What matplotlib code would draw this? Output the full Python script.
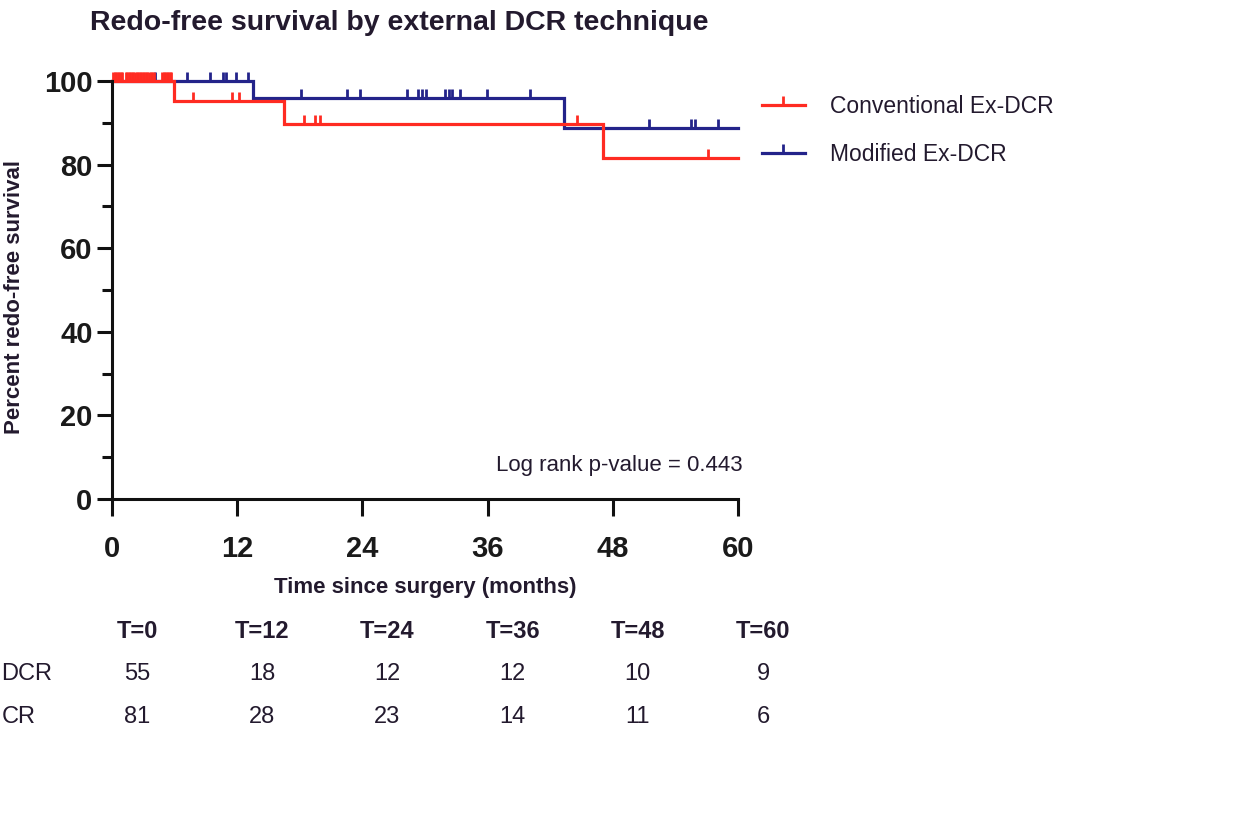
import numpy as np
import matplotlib.pyplot as plt
from matplotlib.lines import Line2D
from matplotlib.transforms import blended_transform_factory

plt.rcParams['font.family'] = ['Liberation Sans', 'DejaVu Sans']

# Kaplan-Meier steps (months, percent)
conv_times = [0, 5.9, 16.5, 47.1, 60]
conv_surv = [100, 95.2, 89.6, 81.6, 81.6]
mod_times = [0, 13.5, 43.3, 60]
mod_surv = [100, 96.0, 88.7, 88.7]

# censored observations (months)
conv_censor = [0.1, 0.25, 0.4, 0.55, 0.7, 0.85, 1.0, 1.3, 1.45, 1.6, 1.75,
               1.9, 2.05, 2.2, 2.35, 2.5, 2.65, 2.8, 2.95, 3.1, 3.25, 3.4,
               3.55, 3.7, 3.85, 4.0, 4.8, 4.95, 5.1, 5.25, 5.4, 5.55, 5.7,
               7.8, 11.5, 12.2, 18.4, 19.5, 19.9, 44.6, 57.1]
mod_censor = [4.1, 7.2, 9.4, 10.6, 10.9, 11.9, 13.0, 18.1, 22.5, 23.8, 28.3,
              29.3, 29.7, 30.1, 31.9, 32.3, 32.6, 33.4, 35.9, 40.1, 51.5,
              55.5, 55.9, 58.1]

# numbers at risk
risk_times = [0, 12, 24, 36, 48, 60]
risk_labels = ["Conventional Ex-DCR", "Modified Ex-DCR"]
row_labels = ["DCR", "CR"]   # what is left visible of the row names
conv_risk = [55, 18, 12, 12, 10, 9]
mod_risk = [81, 28, 23, 14, 11, 6]

RED = "#ff2b22"
BLUE = "#23238a"
TXT = "#231a2e"


def surv_at(times, surv, t):
    idx = np.searchsorted(times, t, side="right") - 1
    return np.array(surv)[idx]


fig = plt.figure(figsize=(12.34, 8.14), dpi=100)
ax = fig.add_axes([112 / 1234, 1 - 499 / 814, 626 / 1234, 418 / 814])

for times, surv, cens, col in [(mod_times, mod_surv, mod_censor, BLUE),
                               (conv_times, conv_surv, conv_censor, RED)]:
    ax.step(times, surv, where="post", color=col, lw=2.3, clip_on=False,
            solid_joinstyle="miter")
    ax.plot(cens, surv_at(times, surv, cens), ls="none", marker=2, ms=6.5,
            mew=2, color=col, clip_on=False)

ax.set_xlim(0, 60)
ax.set_ylim(0, 100)
ax.set_xticks(risk_times)
ax.set_yticks(range(0, 101, 20))
ax.set_yticks(range(10, 100, 20), minor=True)
for s in ["top", "right"]:
    ax.spines[s].set_visible(False)
for s in ["left", "bottom"]:
    ax.spines[s].set_linewidth(2.2)
    ax.spines[s].set_color("#111111")
ax.tick_params(axis="y", which="major", length=11, width=2.2, pad=3,
               labelsize=21, color="#111111", labelcolor="#1a1a1a")
ax.tick_params(axis="y", which="minor", length=7, width=2.2, color="#111111")
ax.tick_params(axis="x", which="major", length=12, width=2.2, pad=14,
               labelsize=21, color="#111111", labelcolor="#1a1a1a")
for lab in ax.get_xticklabels() + ax.get_yticklabels():
    lab.set_fontweight("bold")

ax.set_xlabel("Time since surgery (months)", fontsize=16, fontweight="bold",
              color=TXT, labelpad=10)
fig.text(15 / 1234, 1 - 297 / 814, "Percent redo-free survival", rotation=90,
         ha="center", va="center", fontsize=16, fontweight="bold", color=TXT)
fig.text(90 / 1234, 1 - 10 / 814, "Redo-free survival by external DCR technique",
         ha="left", va="top", fontsize=20.5, fontweight="bold", color=TXT)

ax.text(60.4, 7.9, "Log rank p-value = 0.443", ha="right", va="center",
        fontsize=16, color=TXT)

handles = [Line2D([], [], color=RED, lw=2.3, marker=2, ms=6.5, mew=2),
           Line2D([], [], color=BLUE, lw=2.3, marker=2, ms=6.5, mew=2)]
fig.legend(handles, risk_labels, loc="upper left",
           bbox_to_anchor=(741 / 1234, 1 - 74 / 814), frameon=False,
           fontsize=16.5, handlelength=1.9, handletextpad=1.1,
           labelspacing=1.1, labelcolor=TXT, numpoints=1)

# numbers-at-risk table
tr = blended_transform_factory(ax.transData, fig.transFigure)
for t in risk_times:
    ax.text(t + 2.4, 1 - 631 / 814, f"T={t}", transform=tr, ha="center",
            va="center", fontsize=17, fontweight="bold", color=TXT)
for row, (lab, vals) in enumerate(zip(row_labels, [conv_risk, mod_risk])):
    y = 1 - (674 + 43 * row) / 814
    if row == 0:
        fig.text(52 / 1234, y, lab, ha="right", va="center", fontsize=17,
                 color=TXT)
    else:
        fig.text(2 / 1234, y, lab, ha="left", va="center", fontsize=17,
                 color=TXT)
    for t, v in zip(risk_times, vals):
        ax.text(t + 2.4, y, str(v), transform=tr, ha="center", va="center",
                fontsize=17, color=TXT)

fig.savefig("out.png", dpi=100)
